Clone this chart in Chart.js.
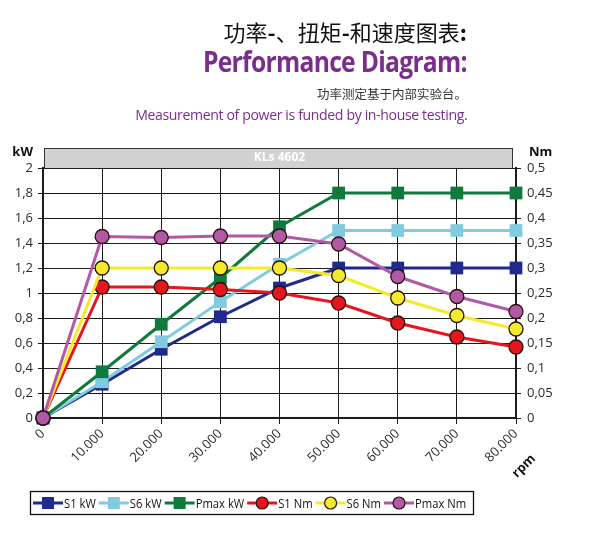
<!DOCTYPE html>
<html>
<head>
<meta charset="utf-8">
<script src="https://cdn.jsdelivr.net/npm/chart.js@4/dist/chart.umd.min.js"></script>
<style>
  body { margin: 0; background: #fff; }
  #wrap { position: relative; width: 607px; height: 547px; overflow: hidden; }
  #c { position: absolute; left: 0; top: 0; }
  .t { position: absolute; right: 140px; white-space: nowrap; text-align: right; transform-origin: right center; }
  #t1 { top: 15px; font-family: "Noto Sans CJK SC"; font-size: 22px; color: #111; }
  #t2 { top: 42px; font-family: "Open Sans"; font-weight: 700; font-size: 28px; color: #7b2d8e; letter-spacing: -0.8px; transform: scaleX(0.88); }
  #t3 { top: 84px; font-family: "Noto Sans CJK SC"; font-size: 12.5px; color: #333; }
  #t4 { top: 104px; font-family: "Open Sans"; font-size: 15px; color: #7b2d8e; letter-spacing: -0.4px; transform: scaleX(0.94); }
</style>
</head>
<body>
<div id="wrap">
  <canvas id="c" width="607" height="547"></canvas>
  <div class="t" id="t1">功率<b>-</b>、扭矩<b>-</b>和速度图表<b>:</b></div>
  <div class="t" id="t2">Performance Diagram:</div>
  <div class="t" id="t3">功率测定基于内部实验台。</div>
  <div class="t" id="t4">Measurement of power is funded by in-house testing.</div>
</div>
<script>
// Daten
const rpm = [0, 10000, 20000, 30000, 40000, 50000, 60000, 70000, 80000];
const s1Kw = [0, 0.27, 0.55, 0.81, 1.04, 1.2, 1.2, 1.2, 1.2];
const s6Kw = [0, 0.29, 0.61, 0.93, 1.23, 1.5, 1.5, 1.5, 1.5];
const pmaxKw = [0, 0.37, 0.75, 1.12, 1.53, 1.8, 1.8, 1.8, 1.8];
const s1Nm = [0, 0.262, 0.262, 0.257, 0.25, 0.23, 0.19, 0.162, 0.142];
const s6Nm = [0, 0.3, 0.3, 0.3, 0.3, 0.285, 0.24, 0.205, 0.178];
const pmaxNm = [0, 0.363, 0.361, 0.364, 0.364, 0.348, 0.283, 0.243, 0.213];
const kwTicks = { min: 0, max: 2, step: 0.2 };
const nmTicks = { min: 0, max: 0.5, step: 0.05 };
const modelName = 'KLs 4602';

const FONT = '"Open Sans", sans-serif';
const GRID = '#1c1c1c';

function pts(arr) {
    return rpm.map((x, i) => ({ x: x, y: arr[i] }));
}
function comma(v) {
    return parseFloat(v.toFixed(2)).toString().replace('.', ',');
}

function kwSet(label, arr, color, order) {
    return {
        label: label, data: pts(arr), yAxisID: 'y', order: order,
        borderColor: color, backgroundColor: color, borderWidth: 3,
        pointStyle: 'rect', pointRadius: 9, pointHoverRadius: 9,
        pointBorderWidth: 0, pointBackgroundColor: color,
        tension: 0, clip: false
    };
}
function nmSet(label, arr, color, order) {
    return {
        label: label, data: pts(arr), yAxisID: 'y1', order: order,
        borderColor: color, backgroundColor: color, borderWidth: 3,
        pointStyle: 'circle', pointRadius: 7, pointHoverRadius: 7,
        pointBorderWidth: 1.3, pointBorderColor: '#2a1010', pointBackgroundColor: color,
        tension: 0, clip: false
    };
}

// Hintergrund-Band, Achsentitel und Legende
const decor = {
    id: 'decor',
    beforeDraw(chart) {
        const ctx = chart.ctx, a = chart.chartArea;
        ctx.save();
        ctx.fillStyle = '#d2d2d2';
        ctx.fillRect(a.left + 1, a.top - 20, a.right - a.left - 4, 20);
        ctx.strokeStyle = '#333';
        ctx.lineWidth = 1;
        ctx.strokeRect(a.left + 1.5, a.top - 19.5, a.right - a.left - 5, 20);
        ctx.fillStyle = '#fff';
        ctx.font = 'bold 12px ' + FONT;
        ctx.textAlign = 'center';
        ctx.textBaseline = 'middle';
        ctx.fillText(modelName, (a.left + a.right) / 2, a.top - 10);
        ctx.restore();
    },
    afterDraw(chart) {
        const ctx = chart.ctx, a = chart.chartArea;
        ctx.save();
        ctx.fillStyle = '#111';
        ctx.font = 'bold 13px ' + FONT;
        ctx.textBaseline = 'middle';
        ctx.textAlign = 'right';
        ctx.fillText('kW', 33, a.top - 16);
        ctx.textAlign = 'left';
        ctx.fillText('Nm', a.right + 13, a.top - 16);
        ctx.save();
        ctx.translate(a.right + 8, a.bottom + 48);
        ctx.rotate(-Math.PI / 4);
        ctx.textAlign = 'center';
        ctx.fillText('rpm', 0, 0);
        ctx.restore();

        // Legende
        const ly = 503;
        ctx.strokeStyle = '#111';
        ctx.lineWidth = 1.3;
        ctx.strokeRect(30.5, 491.5, 443, 23);
        ctx.font = '12.5px ' + FONT;
        ctx.textAlign = 'left';
        let x = 33;
        chart.data.datasets.forEach(ds => {
            ctx.strokeStyle = ds.borderColor;
            ctx.lineWidth = 3;
            ctx.beginPath();
            ctx.moveTo(x, ly);
            ctx.lineTo(x + 30, ly);
            ctx.stroke();
            ctx.fillStyle = ds.pointBackgroundColor;
            if (ds.pointStyle === 'rect') {
                ctx.fillRect(x + 9, ly - 6, 12, 12);
            } else {
                ctx.beginPath();
                ctx.arc(x + 15, ly, 6, 0, Math.PI * 2);
                ctx.fill();
                ctx.lineWidth = 1.2;
                ctx.strokeStyle = '#2a1010';
                ctx.stroke();
            }
            ctx.fillStyle = '#111';
            const w = ctx.measureText(ds.label).width * 0.9;
            ctx.fillText(ds.label, x + 31, ly + 1, w);
            x += 31 + w + 3;
        });
        ctx.restore();
    }
};

new Chart(document.getElementById('c'), {
    type: 'line',
    data: {
        datasets: [
            kwSet('S1 kW', s1Kw, '#1f2a8c', 6),
            kwSet('S6 kW', s6Kw, '#80cbe0', 5),
            kwSet('Pmax kW', pmaxKw, '#0f7a3b', 4),
            nmSet('S1 Nm', s1Nm, '#e5161e', 3),
            nmSet('S6 Nm', s6Nm, '#f4ea2c', 2),
            nmSet('Pmax Nm', pmaxNm, '#b259a6', 1)
        ]
    },
    options: {
        responsive: false,
        animation: false,
        layout: { padding: { top: 168, left: 0, right: 0, bottom: 0 } },
        plugins: { legend: { display: false }, tooltip: { enabled: false } },
        scales: {
            x: {
                type: 'linear', min: 0, max: 80000,
                afterFit(s) { s.height = 129; },
                ticks: {
                    stepSize: 10000, maxRotation: 45, minRotation: 45,
                    color: '#2a2a2a', font: { family: FONT, size: 13 }, padding: 2,
                    callback: v => v === 0 ? '0' : (v / 1000) + '.000'
                },
                grid: { color: GRID, lineWidth: 1, tickLength: 6 },
                border: { color: GRID, width: 2 }
            },
            y: {
                position: 'left', min: kwTicks.min, max: kwTicks.max,
                afterFit(s) { s.width = 43; },
                ticks: {
                    stepSize: kwTicks.step, color: '#2a2a2a',
                    font: { family: FONT, size: 13 }, padding: 5,
                    callback: v => comma(v)
                },
                grid: { color: GRID, lineWidth: 1, tickLength: 5 },
                border: { color: GRID, width: 2 }
            },
            y1: {
                position: 'right', min: nmTicks.min, max: nmTicks.max,
                afterFit(s) { s.width = 91; },
                ticks: {
                    stepSize: nmTicks.step, color: '#2a2a2a',
                    font: { family: FONT, size: 13 }, padding: 6,
                    callback: v => comma(v)
                },
                grid: { drawOnChartArea: false, color: GRID, lineWidth: 1, tickLength: 5 },
                border: { color: GRID, width: 2 }
            }
        }
    },
    plugins: [decor]
});
</script>
</body>
</html>
